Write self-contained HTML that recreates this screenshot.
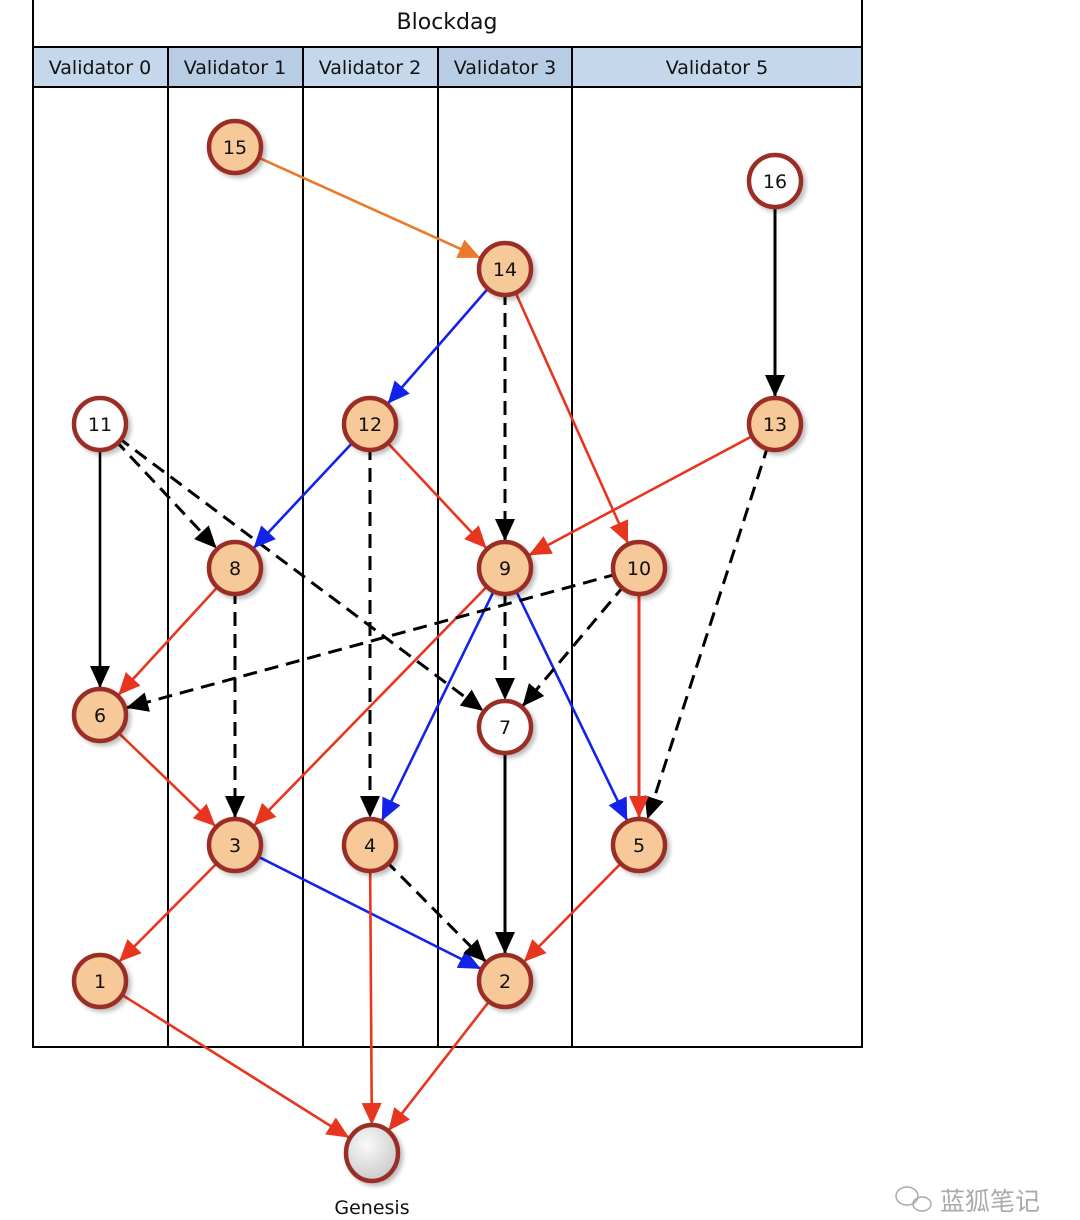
<!DOCTYPE html>
<html><head><meta charset="utf-8"><style>
html,body{margin:0;padding:0;background:#fff;}
svg{display:block;font-family:"DejaVu Sans","Liberation Sans",sans-serif;}
</style></head><body>
<svg width="1080" height="1220" viewBox="0 0 1080 1220" xmlns="http://www.w3.org/2000/svg">
<defs>
<marker id="ab" viewBox="0 -11 22 22" markerUnits="userSpaceOnUse" markerWidth="22" markerHeight="22" refX="49" refY="0" orient="auto" overflow="visible"><path d="M0,-10 L22,0 L0,10 Z" fill="#000"/></marker>
<marker id="ar" viewBox="0 -11 22 22" markerUnits="userSpaceOnUse" markerWidth="22" markerHeight="22" refX="49" refY="0" orient="auto" overflow="visible"><path d="M0,-10 L22,0 L0,10 Z" fill="#e8351f"/></marker>
<marker id="au" viewBox="0 -11 22 22" markerUnits="userSpaceOnUse" markerWidth="22" markerHeight="22" refX="49" refY="0" orient="auto" overflow="visible"><path d="M0,-10 L22,0 L0,10 Z" fill="#1322e8"/></marker>
<marker id="ao" viewBox="0 -11 22 22" markerUnits="userSpaceOnUse" markerWidth="22" markerHeight="22" refX="49" refY="0" orient="auto" overflow="visible"><path d="M0,-10 L22,0 L0,10 Z" fill="#ea7a2c"/></marker>
<radialGradient id="gg" cx="0.4" cy="0.35" r="0.7"><stop offset="0" stop-color="#fafafa"/><stop offset="1" stop-color="#c8c8c8"/></radialGradient>
<filter id="sh" x="-30%" y="-30%" width="160%" height="160%"><feDropShadow dx="3" dy="3" stdDeviation="2" flood-color="#000" flood-opacity="0.25"/></filter>
</defs>
<rect x="33" y="-1" width="829" height="1048" fill="#fff" stroke="#000" stroke-width="2"/>
<text x="447" y="29" font-size="22" text-anchor="middle" fill="#111">Blockdag</text>
<rect x="33" y="47" width="829" height="40" fill="#c5d7ea" stroke="#000" stroke-width="2"/>
<rect x="168" y="48" width="135" height="38" fill="#b8cde4"/>
<rect x="438" y="48" width="134" height="38" fill="#b8cde4"/>
<g stroke="#000" stroke-width="2">
<line x1="168" y1="47" x2="168" y2="1047"/>
<line x1="303" y1="47" x2="303" y2="1047"/>
<line x1="438" y1="47" x2="438" y2="1047"/>
<line x1="572" y1="47" x2="572" y2="1047"/>
<line x1="33" y1="87" x2="862" y2="87"/>
</g>
<g font-size="19" text-anchor="middle" fill="#111">
<text x="100" y="74">Validator 0</text>
<text x="235" y="74">Validator 1</text>
<text x="370" y="74">Validator 2</text>
<text x="505" y="74">Validator 3</text>
<text x="717" y="74">Validator 5</text>
</g>
<g stroke-width="2.6" fill="none">
<line x1="235" y1="147" x2="505" y2="269" stroke="#ea7a2c" marker-end="url(#ao)"/>
<line x1="775" y1="181" x2="775" y2="424" stroke="#000" stroke-width="3" marker-end="url(#ab)"/>
<line x1="505" y1="269" x2="370" y2="424" stroke="#1322e8" marker-end="url(#au)"/>
<line x1="505" y1="269" x2="505" y2="568" stroke="#000" stroke-width="3" stroke-dasharray="14,8" marker-end="url(#ab)"/>
<line x1="505" y1="269" x2="639" y2="568" stroke="#e8351f" marker-end="url(#ar)"/>
<line x1="100" y1="424" x2="100" y2="715" stroke="#000" marker-end="url(#ab)"/>
<line x1="100" y1="424" x2="235" y2="568" stroke="#000" stroke-width="3" stroke-dasharray="14,8" marker-end="url(#ab)"/>
<line x1="100" y1="424" x2="505" y2="727" stroke="#000" stroke-width="3" stroke-dasharray="14,8" marker-end="url(#ab)"/>
<line x1="370" y1="424" x2="235" y2="568" stroke="#1322e8" marker-end="url(#au)"/>
<line x1="370" y1="424" x2="370" y2="845" stroke="#000" stroke-width="3" stroke-dasharray="14,8" marker-end="url(#ab)"/>
<line x1="370" y1="424" x2="505" y2="568" stroke="#e8351f" marker-end="url(#ar)"/>
<line x1="775" y1="424" x2="505" y2="568" stroke="#e8351f" marker-end="url(#ar)"/>
<line x1="775" y1="424" x2="639" y2="845" stroke="#000" stroke-width="3" stroke-dasharray="14,8" marker-end="url(#ab)"/>
<line x1="235" y1="568" x2="100" y2="715" stroke="#e8351f" marker-end="url(#ar)"/>
<line x1="235" y1="568" x2="235" y2="845" stroke="#000" stroke-width="3" stroke-dasharray="14,8" marker-end="url(#ab)"/>
<line x1="505" y1="568" x2="235" y2="845" stroke="#e8351f" marker-end="url(#ar)"/>
<line x1="505" y1="568" x2="370" y2="845" stroke="#1322e8" marker-end="url(#au)"/>
<line x1="505" y1="568" x2="505" y2="727" stroke="#000" stroke-width="3" stroke-dasharray="14,8" marker-end="url(#ab)"/>
<line x1="505" y1="568" x2="639" y2="845" stroke="#1322e8" marker-end="url(#au)"/>
<line x1="639" y1="568" x2="100" y2="715" stroke="#000" stroke-width="3" stroke-dasharray="14,8" marker-end="url(#ab)"/>
<line x1="639" y1="568" x2="505" y2="727" stroke="#000" stroke-width="3" stroke-dasharray="14,8" marker-end="url(#ab)"/>
<line x1="639" y1="568" x2="639" y2="845" stroke="#e8351f" stroke-width="3" marker-end="url(#ar)"/>
<line x1="100" y1="715" x2="235" y2="845" stroke="#e8351f" marker-end="url(#ar)"/>
<line x1="505" y1="727" x2="505" y2="981" stroke="#000" stroke-width="3" marker-end="url(#ab)"/>
<line x1="235" y1="845" x2="100" y2="981" stroke="#e8351f" marker-end="url(#ar)"/>
<line x1="235" y1="845" x2="505" y2="981" stroke="#1322e8" marker-end="url(#au)"/>
<line x1="370" y1="845" x2="505" y2="981" stroke="#000" stroke-width="3" stroke-dasharray="14,8" marker-end="url(#ab)"/>
<line x1="370" y1="845" x2="372" y2="1152" stroke="#e8351f" marker-end="url(#ar)"/>
<line x1="639" y1="845" x2="505" y2="981" stroke="#e8351f" marker-end="url(#ar)"/>
<line x1="100" y1="981" x2="372" y2="1152" stroke="#e8351f" marker-end="url(#ar)"/>
<line x1="505" y1="981" x2="372" y2="1152" stroke="#e8351f" marker-end="url(#ar)"/>
</g>
<g stroke="#9a2e26" stroke-width="4.5" filter="url(#sh)">
<circle cx="235" cy="147" r="26" fill="#f7c898"/>
<circle cx="775" cy="181" r="26" fill="#fff"/>
<circle cx="505" cy="269" r="26" fill="#f7c898"/>
<circle cx="100" cy="424" r="26" fill="#fff"/>
<circle cx="370" cy="424" r="26" fill="#f7c898"/>
<circle cx="775" cy="424" r="26" fill="#f7c898"/>
<circle cx="235" cy="568" r="26" fill="#f7c898"/>
<circle cx="505" cy="568" r="26" fill="#f7c898"/>
<circle cx="639" cy="568" r="26" fill="#f7c898"/>
<circle cx="100" cy="715" r="26" fill="#f7c898"/>
<circle cx="505" cy="727" r="26" fill="#fff"/>
<circle cx="235" cy="845" r="26" fill="#f7c898"/>
<circle cx="370" cy="845" r="26" fill="#f7c898"/>
<circle cx="639" cy="845" r="26" fill="#f7c898"/>
<circle cx="100" cy="981" r="26" fill="#f7c898"/>
<circle cx="505" cy="981" r="26" fill="#f7c898"/>
<ellipse cx="372" cy="1153" rx="26" ry="28" fill="url(#gg)"/>
</g>
<g font-size="19" text-anchor="middle" fill="#111">
<text x="235" y="154">15</text>
<text x="775" y="188">16</text>
<text x="505" y="276">14</text>
<text x="100" y="431">11</text>
<text x="370" y="431">12</text>
<text x="775" y="431">13</text>
<text x="235" y="575">8</text>
<text x="505" y="575">9</text>
<text x="639" y="575">10</text>
<text x="100" y="722">6</text>
<text x="505" y="734">7</text>
<text x="235" y="852">3</text>
<text x="370" y="852">4</text>
<text x="639" y="852">5</text>
<text x="100" y="988">1</text>
<text x="505" y="988">2</text>
<text x="372" y="1214">Genesis</text>
</g>
<text x="1040" y="1210" font-size="25" text-anchor="end" fill="#aaa" font-family="'Liberation Sans','Noto Sans CJK SC',sans-serif">蓝狐笔记</text>
<g fill="none" stroke="#aaa" stroke-width="1.5"><ellipse cx="907" cy="1196" rx="11" ry="9"/><ellipse cx="922" cy="1204" rx="9" ry="7"/></g>
</svg>
</body></html>
